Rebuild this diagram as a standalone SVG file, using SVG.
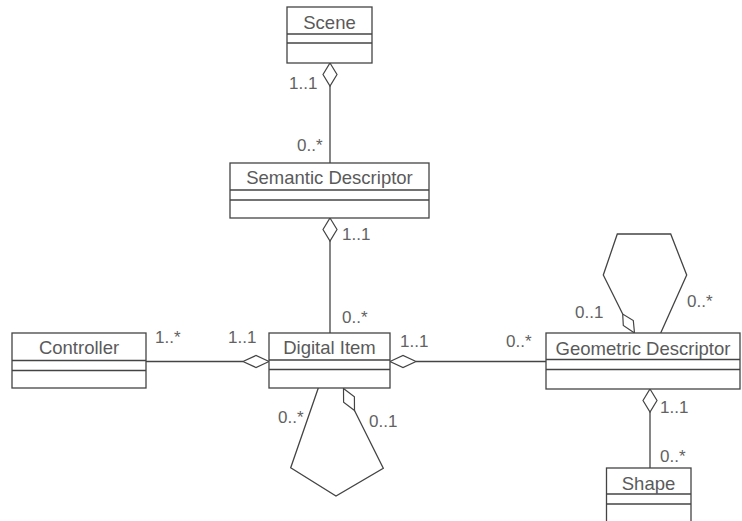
<svg xmlns="http://www.w3.org/2000/svg" width="742" height="521" viewBox="0 0 742 521">
<style>
.box{fill:#fff;stroke:#444;stroke-width:1.3}
.ln{fill:none;stroke:#444;stroke-width:1.3}
.dia{fill:#fff;stroke:#444;stroke-width:1.2}
.name{font-family:"Liberation Sans",Arial,sans-serif;font-size:18.5px;fill:#5a5a5a;text-anchor:middle}
.lbl{font-family:"Liberation Sans",Arial,sans-serif;font-size:17px;fill:#626262}
</style>
<rect width="742" height="521" fill="#fff"/>
<g id="connectors">
<line class="ln" x1="330" y1="86" x2="330" y2="163"/>
<polygon class="dia" points="330,63 337,74.5 330,86 323,74.5"/>
<line class="ln" x1="330" y1="241" x2="330" y2="333"/>
<polygon class="dia" points="330,218 337,229.5 330,241 323,229.5"/>
<line class="ln" x1="146" y1="361.5" x2="243" y2="361.5"/>
<polygon class="dia" points="269,361.5 256,367.5 243,361.5 256,355.5"/>
<line class="ln" x1="416" y1="361.5" x2="546" y2="361.5"/>
<polygon class="dia" points="390,361.5 403,355.5 416,361.5 403,367.5"/>
<line class="ln" x1="650" y1="412" x2="650" y2="468"/>
<polygon class="dia" points="650,389 657,400.5 650,412 643,400.5"/>
<polyline class="ln" points="354.5,410.5 383.3,468.3 336,496 290.7,467.7 318.3,388"/>
<polygon class="dia" points="343.5,388.5 343.6,402.2 354.5,410.5 354.4,396.8"/>
<polyline class="ln" points="622.7,314 603.3,275 617.3,234 670.7,234 686.7,275 660.7,333"/>
<polygon class="dia" points="634.5,333 623.3,325.5 622.7,314 633.3,320.5"/>
<text class="lbl" x="289" y="89">1..1</text>
<text class="lbl" x="297" y="151">0..*</text>
<text class="lbl" x="342" y="240">1..1</text>
<text class="lbl" x="342" y="323">0..*</text>
<text class="lbl" x="155" y="343">1..*</text>
<text class="lbl" x="228" y="343">1..1</text>
<text class="lbl" x="400" y="347">1..1</text>
<text class="lbl" x="506" y="347">0..*</text>
<text class="lbl" x="575" y="318">0..1</text>
<text class="lbl" x="687" y="307">0..*</text>
<text class="lbl" x="278" y="423">0..*</text>
<text class="lbl" x="369" y="427">0..1</text>
<text class="lbl" x="660" y="413">1..1</text>
<text class="lbl" x="660" y="462">0..*</text>
</g>
<g id="scene">
<rect class="box" x="287" y="7" width="85" height="56"/>
<line class="ln" x1="287" y1="34" x2="372" y2="34"/>
<line class="ln" x1="287" y1="43" x2="372" y2="43"/>
<text class="name" x="329.5" y="29">Scene</text>
</g>
<g id="semantic-descriptor">
<rect class="box" x="230" y="163" width="199" height="55"/>
<line class="ln" x1="230" y1="190" x2="429" y2="190"/>
<line class="ln" x1="230" y1="200" x2="429" y2="200"/>
<text class="name" x="329.5" y="184">Semantic Descriptor</text>
</g>
<g id="controller">
<rect class="box" x="12" y="333" width="134" height="55"/>
<line class="ln" x1="12" y1="360.5" x2="146" y2="360.5"/>
<line class="ln" x1="12" y1="370.5" x2="146" y2="370.5"/>
<text class="name" x="79" y="354">Controller</text>
</g>
<g id="digital-item">
<rect class="box" x="269" y="333" width="121" height="55"/>
<line class="ln" x1="269" y1="360" x2="390" y2="360"/>
<line class="ln" x1="269" y1="369.5" x2="390" y2="369.5"/>
<text class="name" x="329.5" y="354">Digital Item</text>
</g>
<g id="geometric-descriptor">
<rect class="box" x="546" y="333" width="194" height="56"/>
<line class="ln" x1="546" y1="359.5" x2="740" y2="359.5"/>
<line class="ln" x1="546" y1="369.5" x2="740" y2="369.5"/>
<text class="name" x="643" y="355">Geometric Descriptor</text>
</g>
<g id="shape">
<rect class="box" x="606.5" y="468" width="84.5" height="70"/>
<line class="ln" x1="606.5" y1="494" x2="691" y2="494"/>
<line class="ln" x1="606.5" y1="504" x2="691" y2="504"/>
<text class="name" x="648.5" y="490">Shape</text>
</g>
</svg>
